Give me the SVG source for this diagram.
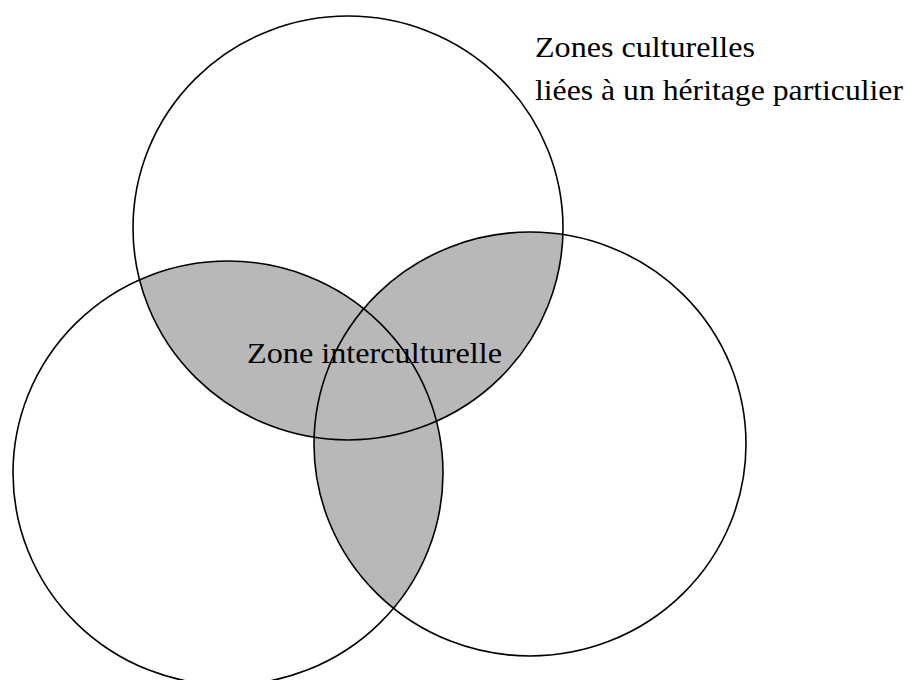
<svg xmlns="http://www.w3.org/2000/svg" width="910" height="680" viewBox="0 0 910 680">
<style>
.c{fill:none;stroke:#000;stroke-width:1.6}
.g{fill:#b8b8b8;stroke:none}
.t{font-family:"Liberation Serif","DejaVu Serif",serif;font-size:30px;fill:#000}
</style>
<defs>
<clipPath id="cTop"><ellipse cx="348" cy="228" rx="215" ry="212"/></clipPath>
<clipPath id="cLeft"><ellipse cx="228" cy="473" rx="215" ry="212"/></clipPath>
</defs>
<rect width="910" height="680" fill="#fff"/>
<g id="shading">
<g clip-path="url(#cTop)">
<ellipse class="g" cx="228" cy="473" rx="215" ry="212"/>
<ellipse class="g" cx="530" cy="444" rx="216" ry="212"/>
</g>
<g clip-path="url(#cLeft)">
<ellipse class="g" cx="530" cy="444" rx="216" ry="212"/>
</g>
</g>
<g id="circle-top"><ellipse class="c" cx="348" cy="228" rx="215" ry="212"/></g>
<g id="circle-left"><ellipse class="c" cx="228" cy="473" rx="215" ry="212"/></g>
<g id="circle-right"><ellipse class="c" cx="530" cy="444" rx="216" ry="212"/></g>
<g id="label-inter"><text class="t" x="247" y="363" textLength="255" lengthAdjust="spacingAndGlyphs">Zone interculturelle</text></g>
<g id="label-zones">
<text class="t" x="535" y="57" textLength="220" lengthAdjust="spacingAndGlyphs">Zones culturelles</text>
<text class="t" x="535" y="100" textLength="368" lengthAdjust="spacingAndGlyphs">liées à un héritage particulier</text>
</g>
</svg>
